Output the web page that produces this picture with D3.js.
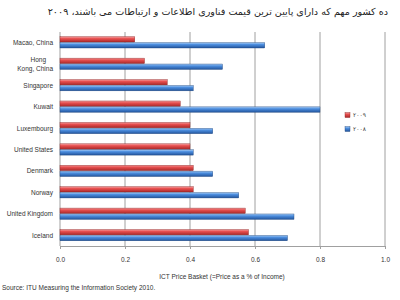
<!DOCTYPE html>
<html><head><meta charset="utf-8">
<script src="https://cdn.jsdelivr.net/npm/d3@7"></script>
<style>body{margin:0;background:#fff}svg{display:block}</style>
</head><body>
<svg id="c" width="400" height="300"></svg>
<script>
const categories = ["Macao, China","Hong Kong, China","Singapore","Kuwait","Luxembourg","United States","Denmark","Norway","United Kingdom","Iceland"];
const values2009 = [0.23,0.26,0.33,0.37,0.40,0.40,0.41,0.41,0.57,0.58];
const values2008 = [0.63,0.50,0.41,0.80,0.47,0.41,0.47,0.55,0.72,0.70];
const xTicks = [0,0.2,0.4,0.6,0.8,1.0];
const seriesNames = ["۲۰۰۹","۲۰۰۸"];
const title = "ده کشور مهم که دارای پایین ترین قیمت فناوری اطلاعات و ارتباطات می باشند، ۲۰۰۹";

const svg = d3.select("#c");
const defs = svg.append("defs");
function grad(id, stops){
  const g = defs.append("linearGradient").attr("id",id).attr("x1",0).attr("y1",0).attr("x2",0).attr("y2",1);
  stops.forEach(s=>g.append("stop").attr("offset",s[0]).attr("stop-color",s[1]));
}
grad("gr",[[0,"#f4a0a0"],[0.35,"#e85050"],[1,"#a82828"]]);
grad("gb",[[0,"#a8cdf5"],[0.35,"#4d8fe0"],[1,"#22549c"]]);

const x = d3.scaleLinear().domain([0,1]).range([60,385]);
const y = d3.scaleBand().domain(categories).range([32,246]).paddingInner(0.45).paddingOuter(0.22);
const y2 = d3.scaleBand().domain([0,1]).range([0,y.bandwidth()]);

// gridlines
svg.append("g").selectAll("line").data(xTicks.slice(1)).join("line")
  .attr("x1",d=>x(d)).attr("x2",d=>x(d)).attr("y1",32).attr("y2",246)
  .attr("stroke","#a0a0a0").attr("stroke-width",1);

// axis
const ax = svg.append("g").attr("transform","translate(0,246)")
  .call(d3.axisBottom(x).tickValues(xTicks).tickFormat(d3.format(".1f")).tickSize(3).tickPadding(8));
ax.select(".domain").attr("stroke","#a0a0a0");
ax.selectAll(".tick line").attr("stroke","#a0a0a0");
ax.selectAll("text").attr("font-family","Liberation Sans, Arial, sans-serif").attr("font-size",6.5).attr("fill","#333");
// y axis line
svg.append("line").attr("x1",60).attr("x2",60).attr("y1",32).attr("y2",246).attr("stroke","#a0a0a0");

const rows = categories.map((c,i)=>({c, v:[values2009[i], values2008[i]]}));
const grp = svg.append("g").selectAll("g").data(rows).join("g").attr("transform",d=>`translate(0,${y(d.c)})`);
grp.selectAll("rect").data(d=>d.v.map((v,k)=>({v,k}))).join("rect")
  .attr("x",x(0)).attr("y",d=>y2(d.k)).attr("height",y2.bandwidth()-0.5)
  .attr("width",d=>x(d.v)-x(0))
  .attr("fill",d=>d.k===0?"url(#gr)":"url(#gb)")
  .attr("stroke",d=>d.k===0?"#8a2020":"#1f467e").attr("stroke-width",0.4);

// category labels
const lab = svg.append("g").selectAll("text").data(categories).join("text")
  .attr("text-anchor","end").attr("font-family","Liberation Sans, Arial, sans-serif").attr("font-size",6.5).attr("fill","#333")
  .attr("x",53).attr("y",d=>y(d)+y.bandwidth()/2+2.3);
lab.each(function(d){
  const t = d3.select(this);
  if(d==="Hong Kong, China"){
    t.append("tspan").attr("x",46).attr("dy",-4.5).text("Hong");
    t.append("tspan").attr("x",53).attr("dy",9).text("Kong, China");
  } else t.text(d);
});

// legend
const lg = svg.append("g");
seriesNames.forEach((n,k)=>{
  const yy = [115,129][k];
  lg.append("rect").attr("x",345).attr("y",yy-2.5).attr("width",5).attr("height",5)
    .attr("fill",k===0?"url(#gr)":"url(#gb)").attr("stroke",k===0?"#8a2020":"#1f467e").attr("stroke-width",0.4);
  lg.append("text").attr("x",353).attr("y",yy+2.2).attr("font-family","DejaVu Sans, sans-serif").attr("font-size",6).attr("fill","#444").text(n);
});

// title
svg.append("text").attr("x",388).attr("y",15).attr("text-anchor","start").attr("direction","rtl")
  .attr("font-family","DejaVu Sans, sans-serif").attr("font-size",9.6).attr("fill","#222").text(title);

// axis title
svg.append("text").attr("x",222).attr("y",279).attr("text-anchor","middle")
  .attr("font-family","Liberation Sans, Arial, sans-serif").attr("font-size",6.5).attr("fill","#333")
  .text("ICT Price Basket (=Price as a % of Income)");
// source
svg.append("text").attr("x",2).attr("y",290)
  .attr("font-family","Liberation Sans, Arial, sans-serif").attr("font-size",6.5).attr("fill","#333")
  .text("Source: ITU Measuring the Information Society 2010.");
</script>
</body></html>
